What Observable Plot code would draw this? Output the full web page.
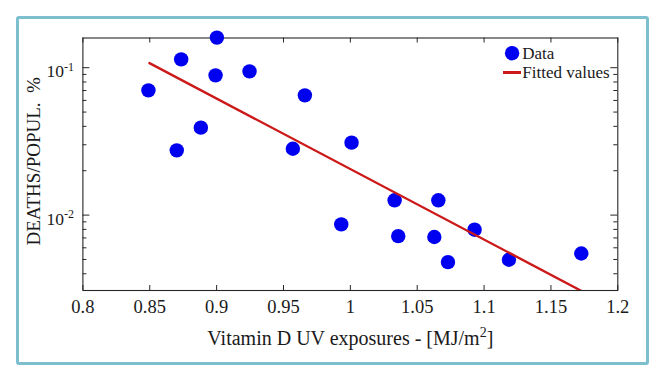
<!DOCTYPE html>
<html><head><meta charset="utf-8">
<script src="https://cdn.jsdelivr.net/npm/d3@7"></script>
<script src="https://cdn.jsdelivr.net/npm/@observablehq/plot@0.6"></script>
<style>
body{margin:0;background:#fff;}
#wrap{position:relative;width:663px;height:379px;overflow:hidden;background:#fff;font-family:"Liberation Serif","Times New Roman",serif;}
#wrap svg{position:absolute;left:0;top:0;}
#border{position:absolute;left:16px;top:16px;width:633px;height:349px;border:3px solid #7dbfcf;border-radius:3px;box-sizing:border-box;pointer-events:none;}
#legline{position:absolute;left:503px;top:71.2px;width:18px;height:2.5px;background:#cc1a1a;}
</style></head>
<body>
<div id="wrap"><div id="border"></div><div id="legline"></div></div>
<script>
// Data
const uvExposure = [0.849, 0.8735, 0.9002, 0.8992, 0.9246, 0.966, 0.8882, 0.8702, 0.957, 1.0009, 1.0331, 1.0658, 0.9932, 1.0358, 1.0628, 1.0929, 1.073, 1.1186, 1.1727];
const deathsPerPop = [0.0702, 0.1138, 0.160, 0.0887, 0.0944, 0.0649, 0.0392, 0.0275, 0.0282, 0.031, 0.0126, 0.0126, 0.00865, 0.0072, 0.0071, 0.00796, 0.0048, 0.00498, 0.00549];
const fitX = [0.8498, 1.1722];
const fitY = [0.1074, 0.00308];
const xTicks = [0.8, 0.85, 0.9, 0.95, 1, 1.05, 1.1, 1.15, 1.2];
const yMajor = [0.01, 0.1];
const yExponent = ["-2", "-1"];
const yMinor = [0.004, 0.005, 0.006, 0.007, 0.008, 0.009, 0.02, 0.03, 0.04, 0.05, 0.06, 0.07, 0.08, 0.09];
const xLabelMain = "Vitamin D UV exposures - [MJ/m";
const xLabelSup = "2";
const xLabelEnd = "]";
const yLabel = "DEATHS/POPUL.  %";
const legendLabels = ["Data", "Fitted values"];

const points = uvExposure.map((x, i) => ({x, y: deathsPerPop[i]}));
const fit = fitX.map((x, i) => ({x, y: fitY[i]}));

const W = 663, H = 379;
const mL = 82.4, mR = 663 - 617.3, mT = 37.5, mB = 379 - 290;
const pw = W - mL - mR, ph = H - mT - mB;
const font = "Liberation Serif";
const axisColor = "#262626";
const txt = "#1a1a1a";
const blue = "#0000f0", red = "#cc1a1a";

const chart = Plot.plot({
  width: W, height: H,
  marginLeft: mL, marginRight: mR, marginTop: mT, marginBottom: mB,
  style: {fontFamily: font, background: "transparent", overflow: "visible"},
  x: {domain: [0.8, 1.2], axis: null},
  y: {type: "log", domain: [0.00308, 0.159], axis: null},
  marks: [
    Plot.frame({stroke: axisColor, strokeWidth: 1.1}),
    Plot.tickX(xTicks, {x: d => d, insetTop: ph - 5, stroke: axisColor}),
    Plot.tickX(xTicks, {x: d => d, insetBottom: ph - 5, stroke: axisColor}),
    Plot.tickY(yMajor, {y: d => d, insetRight: pw - 7, stroke: axisColor}),
    Plot.tickY(yMajor, {y: d => d, insetLeft: pw - 7, stroke: axisColor}),
    Plot.tickY(yMinor, {y: d => d, insetRight: pw - 4, stroke: axisColor}),
    Plot.tickY(yMinor, {y: d => d, insetLeft: pw - 4, stroke: axisColor}),
    // x tick labels
    Plot.text(xTicks, {x: d => d, frameAnchor: "bottom", lineAnchor: "middle", dy: 17, text: d => String(+d.toFixed(2)), fontSize: 18.5, fill: txt}),
    // y tick labels 10^k
    Plot.text(yMajor, {y: d => d, frameAnchor: "left", lineAnchor: "middle", dx: -19, dy: 4, textAnchor: "end", text: () => "10", fontSize: 17.5, fill: txt}),
    Plot.text(yMajor, {y: d => d, frameAnchor: "left", lineAnchor: "middle", dx: -19, dy: -0.5, textAnchor: "start", text: (d, i) => yExponent[i], fontSize: 12, fill: txt}),
    // axis labels
    Plot.text([xLabelMain], {frameAnchor: "bottom", lineAnchor: "middle", textAnchor: "middle", dy: 48, text: d => d, fontSize: 20, fill: txt, className: "xlab"}),
    Plot.text([yLabel], {frameAnchor: "left", lineAnchor: "middle", textAnchor: "middle", dx: -49, dy: -3, rotate: -90, text: d => d, fontSize: 19, fill: txt}),
    // legend (anchored to the frame's top-right corner)
    Plot.dot([legendLabels[0]], {frameAnchor: "top-right", dx: -105.7, dy: 15.2, r: 7.2, fill: blue}),
    Plot.text([legendLabels[0]], {frameAnchor: "top-right", textAnchor: "start", lineAnchor: "middle", dx: -95.5, dy: 15.5, text: d => d, fontSize: 17, fill: txt}),
    Plot.text([legendLabels[1]], {frameAnchor: "top-right", textAnchor: "start", lineAnchor: "middle", dx: -95.5, dy: 34.5, text: d => d, fontSize: 17, fill: txt}),
    // data
    Plot.dot(points, {x: "x", y: "y", r: 7.2, fill: blue, stroke: "none"}),
    Plot.line(fit, {x: "x", y: "y", stroke: red, strokeWidth: 2.4, clip: true})
  ]
});

const wrap = document.getElementById("wrap");
wrap.insertBefore(chart, wrap.firstChild);

// superscript in the x label
const xl = chart.querySelector(".xlab text");
if (xl) {
  const ns = "http://www.w3.org/2000/svg";
  const s = document.createElementNS(ns, "tspan");
  s.setAttribute("dy", "-8"); s.setAttribute("font-size", "14"); s.textContent = xLabelSup;
  const e = document.createElementNS(ns, "tspan");
  e.setAttribute("dy", "8"); e.textContent = xLabelEnd;
  xl.appendChild(s); xl.appendChild(e);
}
</script>
</body></html>
